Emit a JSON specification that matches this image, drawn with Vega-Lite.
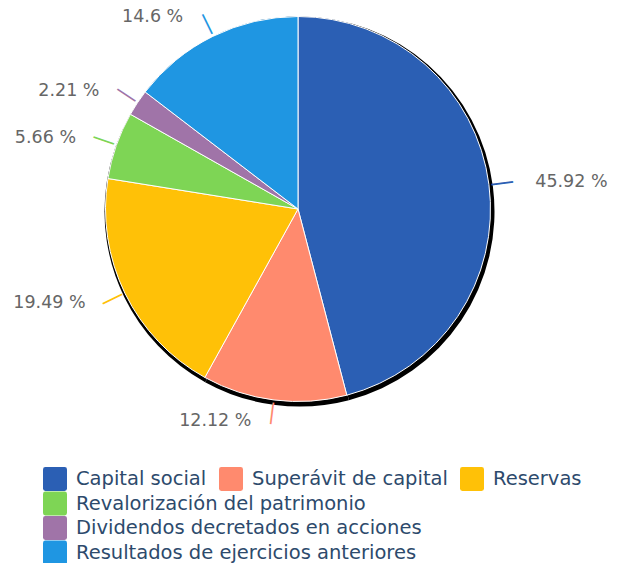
{
  "$schema": "https://vega.github.io/schema/vega-lite/v6.json",
  "width": 596,
  "height": 418,
  "autosize": "none",
  "padding": {"left": 0, "top": 0, "right": 25, "bottom": 145},
  "config": {"view": {"stroke": null}, "font": "DejaVu Sans"},
  "data": {
    "values": [
      {"orden": 1, "categoria": "Capital social", "valor": 45.92, "etiqueta": "45.92 %"},
      {"orden": 2, "categoria": "Superávit de capital", "valor": 12.12, "etiqueta": "12.12 %"},
      {"orden": 3, "categoria": "Reservas", "valor": 19.49, "etiqueta": "19.49 %"},
      {"orden": 4, "categoria": "Revalorización del patrimonio", "valor": 5.66, "etiqueta": "5.66 %"},
      {"orden": 5, "categoria": "Dividendos decretados en acciones", "valor": 2.21, "etiqueta": "2.21 %"},
      {"orden": 6, "categoria": "Resultados de ejercicios anteriores", "valor": 14.6, "etiqueta": "14.6 %"}
    ]
  },
  "layer": [
    {
      "mark": {"type": "arc", "radius": 195, "fill": "#000000", "xOffset": 1.5, "yOffset": 2.5},
      "encoding": {
        "theta": {"field": "valor", "type": "quantitative", "stack": true},
        "order": {"field": "orden", "type": "quantitative"}
      }
    },
    {
      "mark": {"type": "arc", "radius": 192.5, "stroke": "#ffffff", "strokeWidth": 1},
      "encoding": {
        "theta": {"field": "valor", "type": "quantitative", "stack": true},
        "order": {"field": "orden", "type": "quantitative"},
        "fill": {
          "field": "categoria",
          "type": "nominal",
          "scale": {
            "domain": ["Capital social", "Superávit de capital", "Reservas", "Revalorización del patrimonio", "Dividendos decretados en acciones", "Resultados de ejercicios anteriores"],
            "range": ["#2b5fb4", "#ff8a6e", "#ffc107", "#7ed555", "#a074a8", "#1f96e2"]
          },
          "legend": {
            "orient": "none",
            "legendX": 43,
            "legendY": 467,
            "direction": "horizontal",
            "values": ["Capital social", "Superávit de capital", "Reservas"],
            "title": null,
            "padding": 0,
            "symbolType": "M-0.8,-1H0.8Q1,-1 1,-0.8V0.8Q1,1 0.8,1H-0.8Q-1,1 -1,0.8V-0.8Q-1,-1 -0.8,-1Z",
            "symbolSize": 576,
            "symbolStrokeWidth": 0,
            "labelFontSize": 19.5,
            "labelFont": "DejaVu Sans",
            "labelColor": "#2d4a6c",
            "labelOffset": 9,
            "labelLimit": 0,
            "columnPadding": 12
          }
        }
      }
    },
    {
      "mark": {"type": "text", "radius": 206, "text": "—", "fontSize": 24, "baseline": "middle", "align": "center",
        "angle": {"expr": "(datum.valor_start + datum.valor_end) / 2 * 3.6 - 90"}},
      "encoding": {
        "theta": {"field": "valor", "type": "quantitative", "stack": true},
        "order": {"field": "orden", "type": "quantitative"},
        "color": {
          "field": "categoria",
          "type": "nominal",
          "scale": {
            "domain": ["Revalorización del patrimonio", "Dividendos decretados en acciones", "Resultados de ejercicios anteriores", "Capital social", "Superávit de capital", "Reservas"],
            "range": ["#7ed555", "#a074a8", "#1f96e2", "#2b5fb4", "#ff8a6e", "#ffc107"]
          },
          "legend": {
            "orient": "none",
            "legendX": 43,
            "legendY": 491.5,
            "direction": "vertical",
            "values": ["Revalorización del patrimonio", "Dividendos decretados en acciones", "Resultados de ejercicios anteriores"],
            "title": null,
            "padding": 0,
            "symbolType": "M-0.8,-1H0.8Q1,-1 1,-0.8V0.8Q1,1 0.8,1H-0.8Q-1,1 -1,0.8V-0.8Q-1,-1 -0.8,-1Z",
            "symbolSize": 576,
            "symbolStrokeWidth": 0,
            "labelFontSize": 19.5,
            "labelFont": "DejaVu Sans",
            "labelColor": "#2d4a6c",
            "labelOffset": 9,
            "labelLimit": 0,
            "rowPadding": 0.5
          }
        }
      }
    },
    {
      "mark": {"type": "text", "radius": 214, "fontSize": 17.5, "color": "#666666", "baseline": "middle",
        "align": {"expr": "datum.orden == 1 ? 'left' : 'right'"},
        "dx": {"expr": "datum.orden == 1 ? 25 : -20"}},
      "encoding": {
        "theta": {"field": "valor", "type": "quantitative", "stack": true},
        "order": {"field": "orden", "type": "quantitative"},
        "text": {"field": "etiqueta", "type": "nominal"}
      }
    }
  ]
}
